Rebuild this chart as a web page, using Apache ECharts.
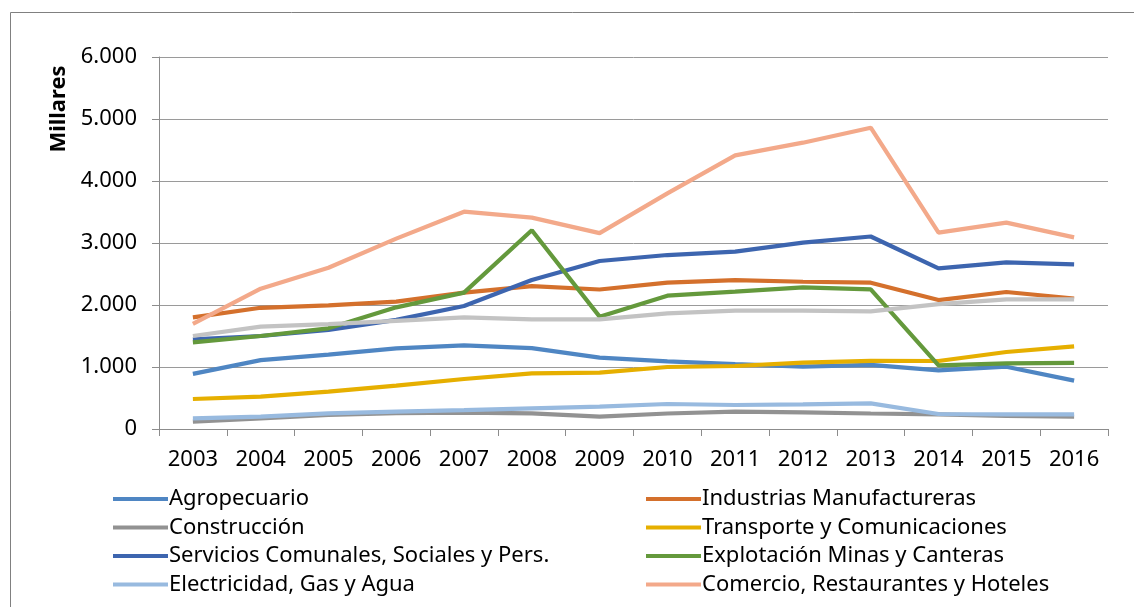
<!DOCTYPE html>
<html>
<head>
<meta charset="utf-8">
<script src="https://cdn.jsdelivr.net/npm/echarts@6/dist/echarts.min.js"></script>
<style>
html,body{margin:0;padding:0;background:#fff;}
#c{width:1134px;height:607px;}
</style>
</head>
<body>
<div id="c"></div>
<script>
var years = ['2003','2004','2005','2006','2007','2008','2009','2010','2011','2012','2013','2014','2015','2016'];
var agropecuario = [890, 1110, 1200, 1300, 1350, 1305, 1150, 1090, 1045, 1005, 1035, 945, 1005, 780];
var industrias = [1800, 1955, 1995, 2055, 2200, 2305, 2250, 2360, 2400, 2375, 2360, 2080, 2210, 2105];
var construccion = [120, 172, 228, 255, 265, 253, 200, 250, 280, 268, 250, 235, 212, 200];
var transporte = [484, 522, 602, 700, 806, 898, 910, 1000, 1016, 1070, 1100, 1097, 1242, 1333];
var servicios = [1446, 1500, 1597, 1760, 1984, 2403, 2710, 2806, 2860, 3005, 3105, 2591, 2688, 2656];
var explotacion = [1398, 1500, 1624, 1962, 2199, 3205, 1812, 2151, 2215, 2285, 2253, 1027, 1059, 1065];
var electricidad = [172, 199, 253, 280, 306, 333, 360, 403, 387, 398, 414, 242, 237, 237];
var comercio = [1694, 2263, 2600, 3070, 3505, 3409, 3160, 3801, 4414, 4618, 4860, 3167, 3328, 3091];
var otros = [1500, 1650, 1690, 1745, 1800, 1768, 1768, 1865, 1908, 1908, 1898, 2015, 2090, 2090];

var names = ['Agropecuario','Industrias Manufactureras','Construcción','Transporte y Comunicaciones',
  'Servicios Comunales, Sociales y Pers.','Explotación Minas y Canteras','Electricidad, Gas y Agua',
  'Comercio, Restaurantes y Hoteles','Otros'];
var colors = ['#4F86C3','#D4702C','#929292','#E6AF00','#3D65AF','#64993C','#98BADF','#F3A98A','#C3C3C3'];
var datasets = [agropecuario, industrias, construccion, transporte, servicios, explotacion, electricidad, comercio, otros];

var FONT = 'Noto Sans';
var series = datasets.map(function(d, i){
  return {
    name: names[i], type: 'line', data: d, symbol: 'none', showSymbol: false,
    lineStyle: {width: 4.2, color: colors[i]}, itemStyle: {color: colors[i]},
    emphasis: {disabled: true}, animation: false
  };
});

function fmt(v){ return String(v).replace(/\B(?=(\d{3})+(?!\d))/g, '.'); }

var legendCommon = {
  orient: 'vertical', icon: 'rect', itemWidth: 55, itemHeight: 4, itemGap: 6.5,
  textStyle: {fontFamily: FONT, fontSize: 22, color: '#000', lineHeight: 22, padding: [0,0,0,-4]},
  selectedMode: false
};

var option = {
  animation: false,
  color: colors,
  grid: {left: 159, right: 26, top: 57, bottom: 178, containLabel: false},
  xAxis: {
    type: 'category', data: years, boundaryGap: true,
    axisLine: {lineStyle: {color: '#8C8C8C', width: 1}},
    axisTick: {show: true, length: 7, lineStyle: {color: '#8C8C8C'}},
    axisLabel: {fontFamily: FONT, fontSize: 22, color: '#000', margin: 20}
  },
  yAxis: {
    type: 'value', min: 0, max: 6000, interval: 1000,
    axisLine: {show: true, lineStyle: {color: '#8C8C8C', width: 1}},
    axisTick: {show: true, length: 7, lineStyle: {color: '#8C8C8C'}},
    splitLine: {lineStyle: {color: '#9A9A9A', width: 1}},
    axisLabel: {fontFamily: FONT, fontSize: 22, color: '#000', margin: 22, formatter: fmt}
  },
  legend: [
    Object.assign({}, legendCommon, {left: 108, top: 483,
      data: ['Agropecuario','Construcción','Servicios Comunales, Sociales y Pers.','Electricidad, Gas y Agua']}),
    Object.assign({}, legendCommon, {left: 641, top: 483,
      data: ['Industrias Manufactureras','Transporte y Comunicaciones','Explotación Minas y Canteras','Comercio, Restaurantes y Hoteles']})
  ],
  graphic: [
    {type: 'rect', left: 8, top: 10, shape: {width: 1200, height: 700}, silent: true, z: -1,
     style: {fill: 'none', stroke: '#808080', lineWidth: 1}},
    {type: 'text', x: 59, y: 109, rotation: Math.PI/2, silent: true,
     style: {text: 'Millares', fontFamily: FONT, fontSize: 22, fontWeight: 'bold', fill: '#000',
       textAlign: 'center', textVerticalAlign: 'middle'}}
  ],
  series: series
};

var chart = echarts.init(document.getElementById('c'), null, {renderer: 'canvas'});
chart.setOption(option);
</script>
</body>
</html>
